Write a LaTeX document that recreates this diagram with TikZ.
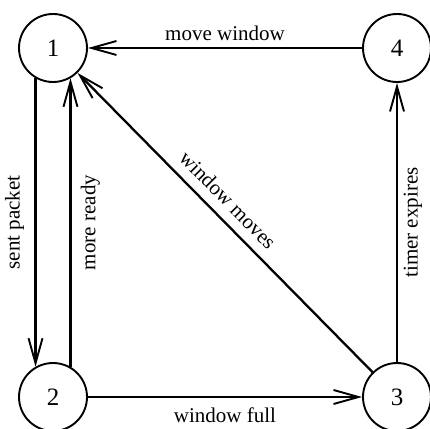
\documentclass[tikz,border=0pt]{standalone}
\usepackage{fontspec}
\setmainfont{Liberation Serif}
\usetikzlibrary{arrows.meta}
\begin{document}
\begin{tikzpicture}[x=1pt,y=1pt,
  state/.style={circle, draw, line width=1.9pt, minimum size=68pt, inner sep=0pt, font=\fontsize{25}{25}\selectfont},
  trans/.style={line width=2.3pt, -{Straight Barb[length=25pt,width=14pt,line width=1.9pt]}},
  lbl/.style={font=\fontsize{21}{21}\selectfont, inner sep=0pt}]
\useasboundingbox (0,0) rectangle (430,428);
\node[state] (n1) at (53,380) {1};
\node[state] (n4) at (397,380) {4};
\node[state] (n2) at (53,31) {2};
\node[state] (n3) at (397,31) {3};
\draw[trans] (n4) -- node[lbl, midway, yshift=15pt] {move window} (n1);
\draw[trans] (n1.240) -- node[lbl, midway, xshift=-21pt, rotate=90] {sent packet} (n2.120);
\draw[trans] (n2.60) -- node[lbl, midway, xshift=20pt, rotate=90] {more ready} (n1.300);
\draw[trans] (n2) -- node[lbl, midway, yshift=-18pt] {window full} (n3);
\draw[trans] (n3) -- node[lbl, midway, xshift=16pt, rotate=90] {timer expires} (n4);
\draw[trans] (n3) -- node[lbl, midway, xshift=3pt, yshift=22.5pt, rotate=-45.4] {window moves} (n1);
\end{tikzpicture}
\end{document}
